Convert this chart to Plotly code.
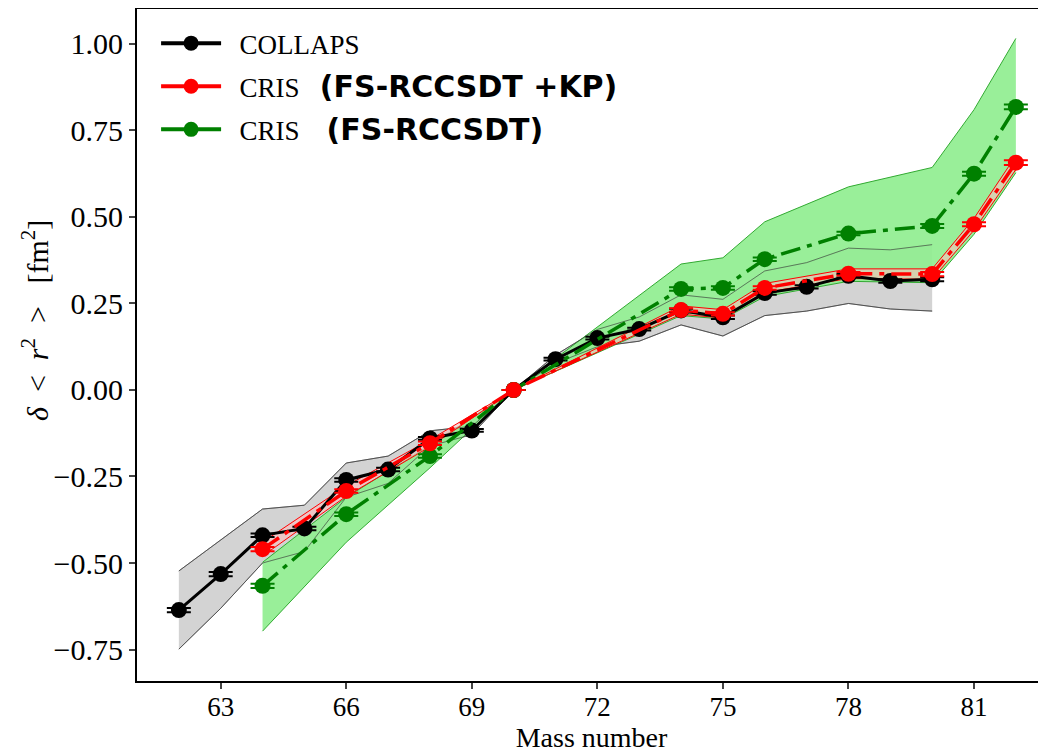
import plotly.graph_objects as go

# ---------------- data ----------------
mass_collaps = [62, 63, 64, 65, 66, 67, 68, 69, 70, 71, 72, 73, 74, 75, 76, 77, 78, 79, 80]
collaps = [-0.636, -0.532, -0.420, -0.400, -0.260, -0.230, -0.140, -0.117, 0.000, 0.089,
           0.150, 0.176, 0.230, 0.210, 0.280, 0.298, 0.330, 0.315, 0.320]
collaps_stat = [0.006, 0.006, 0.005, 0.005, 0.005, 0.005, 0.004, 0.004, 0.0, 0.004,
                0.004, 0.004, 0.005, 0.005, 0.005, 0.005, 0.005, 0.005, 0.006]
collaps_lo = [-0.749, -0.631, -0.500, -0.467, -0.310, -0.270, -0.162, -0.129, 0.000, 0.077,
              0.125, 0.141, 0.188, 0.156, 0.215, 0.228, 0.250, 0.234, 0.228]
collaps_hi = [-0.523, -0.433, -0.344, -0.333, -0.211, -0.191, -0.118, -0.105, 0.000, 0.101,
              0.175, 0.211, 0.275, 0.262, 0.344, 0.368, 0.410, 0.405, 0.420]

mass_cris = [64, 66, 68, 70, 74, 75, 76, 78, 80, 81, 82]
cris_kp = [-0.460, -0.292, -0.154, 0.000, 0.231, 0.220, 0.295, 0.336, 0.335, 0.479, 0.657]
cris_kp_stat = [0.006, 0.005, 0.005, 0.0, 0.005, 0.005, 0.005, 0.005, 0.006, 0.006, 0.007]
cris_kp_lo = [-0.480, -0.307, -0.164, 0.000, 0.219, 0.208, 0.282, 0.322, 0.320, 0.462, 0.637]
cris_kp_hi = [-0.440, -0.277, -0.144, 0.000, 0.243, 0.232, 0.308, 0.350, 0.350, 0.496, 0.677]

cris = [-0.566, -0.359, -0.191, 0.000, 0.292, 0.295, 0.378, 0.452, 0.474, 0.625, 0.818]
cris_stat = [0.006, 0.005, 0.005, 0.0, 0.005, 0.005, 0.005, 0.005, 0.006, 0.006, 0.007]
cris_lo = [-0.697, -0.440, -0.225, 0.000, 0.215, 0.205, 0.270, 0.314, 0.310, 0.450, 0.628]
cris_hi = [-0.498, -0.310, -0.160, 0.000, 0.364, 0.382, 0.486, 0.587, 0.643, 0.810, 1.016]

x_ticks = [63, 66, 69, 72, 75, 78, 81]
y_ticks = [-0.75, -0.50, -0.25, 0.00, 0.25, 0.50, 0.75, 1.00]

BOLD = "<span style=\"font-family:'DejaVu Sans';font-size:30px;font-weight:bold\">{}</span>"
legend_names = [
    "&nbsp;&nbsp;COLLAPS",
    "&nbsp;&nbsp;CRIS&nbsp;&nbsp;&nbsp;" + BOLD.format("(FS-RCCSDT +KP)"),
    "&nbsp;&nbsp;CRIS&nbsp;&nbsp;&nbsp;&nbsp;" + BOLD.format("(FS-RCCSDT)"),
]
legend_colors = ["black", "red", "green"]
y_title = ("<i>δ</i>&nbsp;&nbsp;&lt;&nbsp;&nbsp;<i>r</i><sup>2</sup>&nbsp;&nbsp;&gt;"
           "&nbsp;&nbsp;&nbsp;[fm<sup>2</sup>]")

SERIF = "Liberation Serif"
DASHDOT = "20px,7px,5px,7px"

fig = go.Figure()

def band(xs, lo, hi, fill, edge, edge_w):
    fig.add_trace(go.Scatter(x=xs, y=lo, mode="lines", line=dict(color=edge, width=edge_w),
                             showlegend=False, hoverinfo="skip"))
    fig.add_trace(go.Scatter(x=xs, y=hi, mode="lines", line=dict(color=edge, width=edge_w),
                             fill="tonexty", fillcolor=fill, showlegend=False, hoverinfo="skip"))

# bands
band(mass_collaps, collaps_lo, collaps_hi, "rgb(211,211,211)", "rgb(90,90,90)", 0.8)
band(mass_cris, cris_lo, cris_hi, "rgba(144,238,144,0.92)", "rgb(50,170,50)", 1)
for edge in (collaps_lo, collaps_hi):
    fig.add_trace(go.Scatter(x=mass_collaps, y=edge, mode="lines",
                             line=dict(color="rgba(60,60,60,0.8)", width=0.8),
                             showlegend=False, hoverinfo="skip"))
band(mass_cris, cris_kp_lo, cris_kp_hi, "rgba(255,190,190,0.6)", "rgb(255,0,0)", 1)

def err(arr, color):
    return dict(type="data", array=arr, visible=True, thickness=2, width=12, color=color)

fig.add_trace(go.Scatter(
    x=mass_collaps, y=collaps, mode="lines+markers", showlegend=False,
    line=dict(color="black", width=3), marker=dict(color="black", size=16),
    error_y=err(collaps_stat, "black")))
fig.add_trace(go.Scatter(
    x=mass_cris, y=cris, mode="lines+markers", showlegend=False,
    line=dict(color="green", width=3.5, dash=DASHDOT), marker=dict(color="green", size=16),
    error_y=err(cris_stat, "green")))
fig.add_trace(go.Scatter(
    x=mass_cris, y=cris_kp, mode="lines+markers", showlegend=False,
    line=dict(color="red", width=3.5, dash=DASHDOT), marker=dict(color="red", size=16),
    error_y=err(cris_kp_stat, "red")))

# legend entries (solid line + marker, as in the reference legend)
for i, (nm, col) in enumerate(zip(legend_names, legend_colors)):
    fig.add_trace(go.Scatter(
        x=[None], y=[None], mode="lines+markers", name=nm,
        line=dict(color=col, width=4), marker=dict(color=col, size=15),
        legendgroup="g%d" % i))

fig.update_layout(
    width=1038, height=746,
    margin=dict(l=129, r=0, t=1, b=73),
    paper_bgcolor="white", plot_bgcolor="white",
    font=dict(family=SERIF, size=26, color="black"),
    showlegend=True,
    legend=dict(x=0.021, y=0.985, xanchor="left", yanchor="top",
                bgcolor="rgba(255,255,255,0)", font=dict(family=SERIF, size=27),
                traceorder="grouped", tracegroupgap=5, itemwidth=60),
    xaxis=dict(range=[61, 82.72], tickvals=x_ticks, ticks="outside", ticklen=6, tickwidth=1.5,
               showline=True, linecolor="black", linewidth=2, mirror=True, showgrid=False,
               zeroline=False, tickfont=dict(family=SERIF, size=27), automargin=False,
               ticklabelstandoff=-5,
               title=dict(text="Mass number", font=dict(family=SERIF, size=28), standoff=2)),
    yaxis=dict(range=[-0.841, 1.101], tickvals=y_ticks, tickformat=".2f", ticks="outside",
               ticklen=6, tickwidth=1.5, showline=True, linecolor="black", linewidth=2,
               mirror=False, showgrid=False, zeroline=False, tickfont=dict(family=SERIF, size=30),
               automargin=False, ticklabelstandoff=0),
    annotations=[dict(text=y_title, textangle=-90, xref="paper", yref="paper",
                      x=(27 - 129) / 909, y=(672 - 312) / 672, xanchor="center", yanchor="middle",
                      showarrow=False, font=dict(family=SERIF, size=30))],
)

fig.write_html("out.html")
